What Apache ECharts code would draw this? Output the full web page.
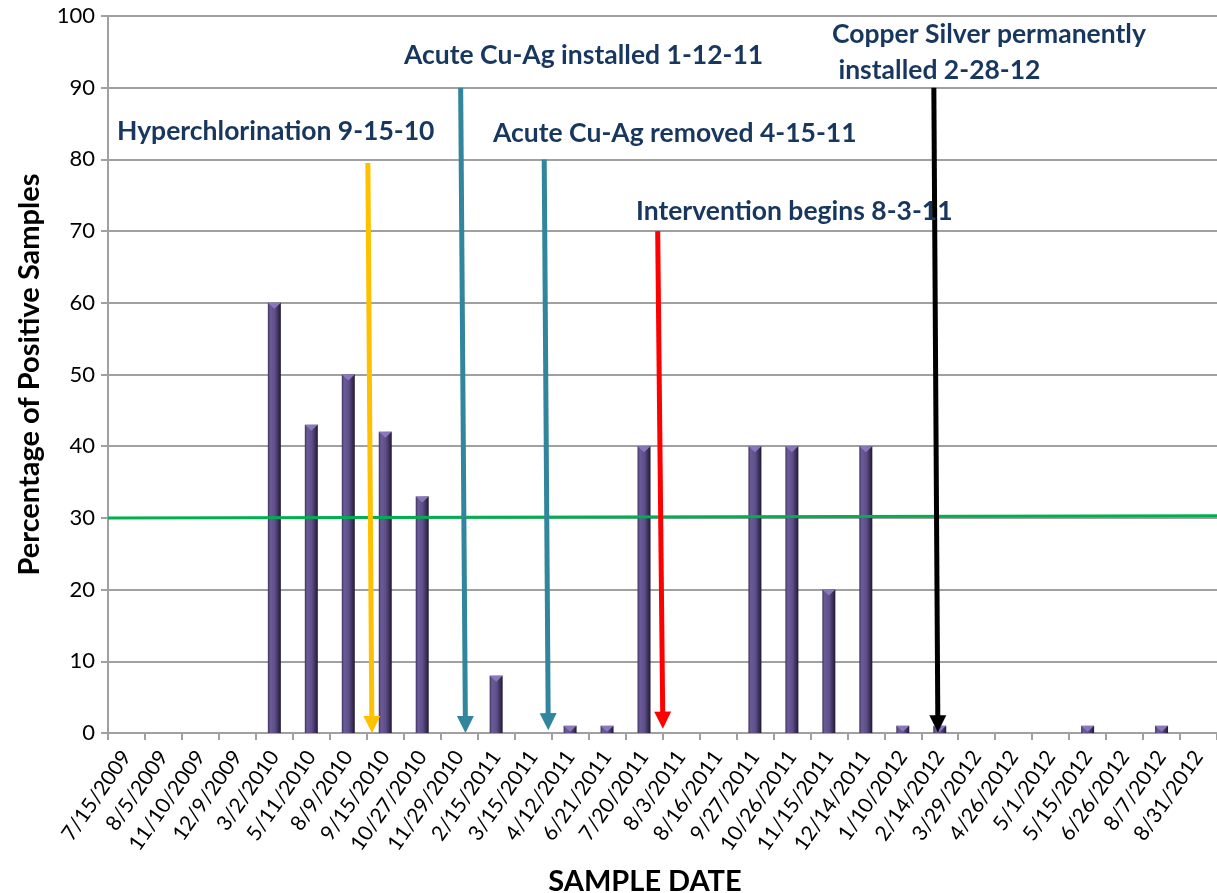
<!DOCTYPE html>
<html>
<head>
<meta charset="utf-8">
<script src="https://cdn.jsdelivr.net/npm/echarts@6/dist/echarts.min.js"></script>
<style>
  html, body { margin: 0; padding: 0; background: #ffffff; }
  #chart { width: 1217px; height: 893px; }
</style>
</head>
<body>
<div id="chart"></div>
<script>
// Sample dates (one bar per sampling round)
const sampleDates = [
  '7/15/2009', '8/5/2009', '11/10/2009', '12/9/2009', '3/2/2010', '5/11/2010',
  '8/9/2010', '9/15/2010', '10/27/2010', '11/29/2010', '2/15/2011', '3/15/2011',
  '4/12/2011', '6/21/2011', '7/20/2011', '8/3/2011', '8/16/2011', '9/27/2011',
  '10/26/2011', '11/15/2011', '12/14/2011', '1/10/2012', '2/14/2012', '3/29/2012',
  '4/26/2012', '5/1/2012', '5/15/2012', '6/26/2012', '8/7/2012', '8/31/2012'
];

// Percentage of positive samples per date
const positivePct = [
  0, 0, 0, 0, 60, 43,
  50, 42, 33, 0, 8, 0,
  1, 1, 40, 0, 0, 40,
  40, 20, 40, 1, 1, 0,
  0, 0, 1, 0, 1, 0
];

// Action threshold line (position along the date axis, percentage)
const thresholdLine = [[0, 30], [30, 30.3]];

// Y axis ticks
const yTicks = { min: 0, max: 100, step: 10 };

// Event arrows: [axis position at top, pct at top, axis position at tip, pct at tip]
const eventArrows = [
  [7.03, 79.5, 7.14, 0],
  [9.54, 90, 9.67, 0],
  [11.8, 80, 11.91, 0.4],
  [14.87, 70, 15.01, 0.6],
  [22.34, 90, 22.45, 0.1]
];
const eventColors = ['#FFC000', '#31859C', '#31859C', '#FF0000', '#000000'];

// Event captions
const eventLabels = [
  { text: 'Hyperchlorination 9-15-10', x: 117, y: 131 },
  { text: 'Acute Cu-Ag installed 1-12-11', x: 404, y: 55 },
  { text: 'Acute Cu-Ag removed 4-15-11', x: 493, y: 133 },
  { text: 'Intervention begins 8-3-11', x: 636, y: 211 },
  { text: 'Copper Silver permanently', x: 832, y: 34 },
  { text: ' installed 2-28-12', x: 832, y: 70 }
];

const FONT = 'Lato, "Open Sans", "DejaVu Sans", sans-serif';
const GRID_GRAY = '#A0A0A0';

const chart = echarts.init(document.getElementById('chart'), null, { renderer: 'canvas' });

const barGradient = new echarts.graphic.LinearGradient(0, 0, 1, 0, [
  { offset: 0, color: '#3f325f' },
  { offset: 0.18, color: '#6b5b98' },
  { offset: 0.55, color: '#5d4d88' },
  { offset: 0.82, color: '#3a2e56' },
  { offset: 1, color: '#1f1830' }
]);

// Bevelled cap on top of each bar
function renderCap(params, api) {
  const v = api.value(1);
  if (!v) return null;
  const top = api.coord([api.value(0), v]);
  const w = 13, h = 6;
  return {
    type: 'polygon',
    shape: { points: [[top[0] - w / 2, top[1]], [top[0] + w / 2, top[1]], [top[0], top[1] + h]] },
    style: { fill: '#8a78bd' }
  };
}

function renderArrow(params, api) {
  const p0 = api.coord([api.value(0), api.value(1)]);
  const p1 = api.coord([api.value(2), api.value(3)]);
  const color = eventColors[params.dataIndex];
  const dx = p1[0] - p0[0], dy = p1[1] - p0[1];
  const len = Math.sqrt(dx * dx + dy * dy);
  const ux = dx / len, uy = dy / len;
  const headLen = 17, headW = 17;
  const bx = p1[0] - ux * headLen, by = p1[1] - uy * headLen;
  const nx = -uy, ny = ux;
  return {
    type: 'group',
    children: [
      {
        type: 'line',
        shape: { x1: p0[0], y1: p0[1], x2: bx + ux * 2, y2: by + uy * 2 },
        style: { stroke: color, lineWidth: 5 }
      },
      {
        type: 'polygon',
        shape: { points: [[p1[0], p1[1]], [bx + nx * headW / 2, by + ny * headW / 2], [bx - nx * headW / 2, by - ny * headW / 2]] },
        style: { fill: color }
      }
    ]
  };
}

const option = {
  animation: false,
  backgroundColor: '#ffffff',
  textStyle: { fontFamily: FONT },
  title: {
    text: 'SAMPLE DATE',
    left: 640,
    top: 862,
    textAlign: 'center',
    textStyle: { fontFamily: FONT, fontWeight: 'bold', fontSize: 29, color: '#000000' }
  },
  grid: { left: 108, right: -5, top: 16, bottom: 160, containLabel: false },
  xAxis: [
    {
      type: 'category',
      data: sampleDates,
      boundaryGap: true,
      axisLine: { show: true, lineStyle: { color: GRID_GRAY, width: 2 } },
      axisTick: { show: true, length: 7, interval: 0, lineStyle: { color: GRID_GRAY, width: 2 } },
      axisLabel: {
        interval: 0,
        rotate: 55,
        margin: 20,
        fontSize: 21,
        color: '#000000',
        fontFamily: FONT
      },
      splitLine: { show: false }
    },
    {
      type: 'value',
      min: 0,
      max: 30,
      show: false,
      splitLine: { show: false }
    }
  ],
  yAxis: {
    type: 'value',
    min: yTicks.min,
    max: yTicks.max,
    interval: yTicks.step,
    name: 'Percentage of Positive Samples',
    nameLocation: 'middle',
    nameGap: 64,
    nameTextStyle: { fontFamily: FONT, fontWeight: 'bold', fontSize: 29, color: '#000000' },
    axisLine: { show: true, lineStyle: { color: GRID_GRAY, width: 2 } },
    axisTick: { show: true, length: 7, lineStyle: { color: GRID_GRAY, width: 2 } },
    axisLabel: { fontSize: 22, color: '#000000', margin: 13, fontFamily: FONT },
    splitLine: { show: true, lineStyle: { color: GRID_GRAY, width: 2 } }
  },
  series: [
    {
      name: 'Positive samples',
      type: 'bar',
      data: positivePct,
      barWidth: 13,
      itemStyle: { color: barGradient },
      z: 2
    },
    {
      name: 'Bar caps',
      type: 'custom',
      data: positivePct.map(function (v, i) { return [i, v]; }),
      renderItem: renderCap,
      silent: true,
      z: 2.5
    },
    {
      name: 'Threshold',
      type: 'line',
      xAxisIndex: 1,
      data: thresholdLine,
      symbol: 'none',
      lineStyle: { color: '#00B050', width: 3 },
      z: 3
    },
    {
      name: 'Events',
      type: 'custom',
      xAxisIndex: 1,
      data: eventArrows,
      renderItem: renderArrow,
      z: 4
    }
  ],
  graphic: eventLabels.map(function (l) {
    return {
      type: 'text',
      x: l.x,
      y: l.y,
      z: 10,
      style: {
        text: l.text,
        font: 'bold 26.5px ' + FONT,
        fill: '#17375E',
        verticalAlign: 'middle',
        align: 'left'
      }
    };
  })
};

chart.setOption(option);
</script>
</body>
</html>
